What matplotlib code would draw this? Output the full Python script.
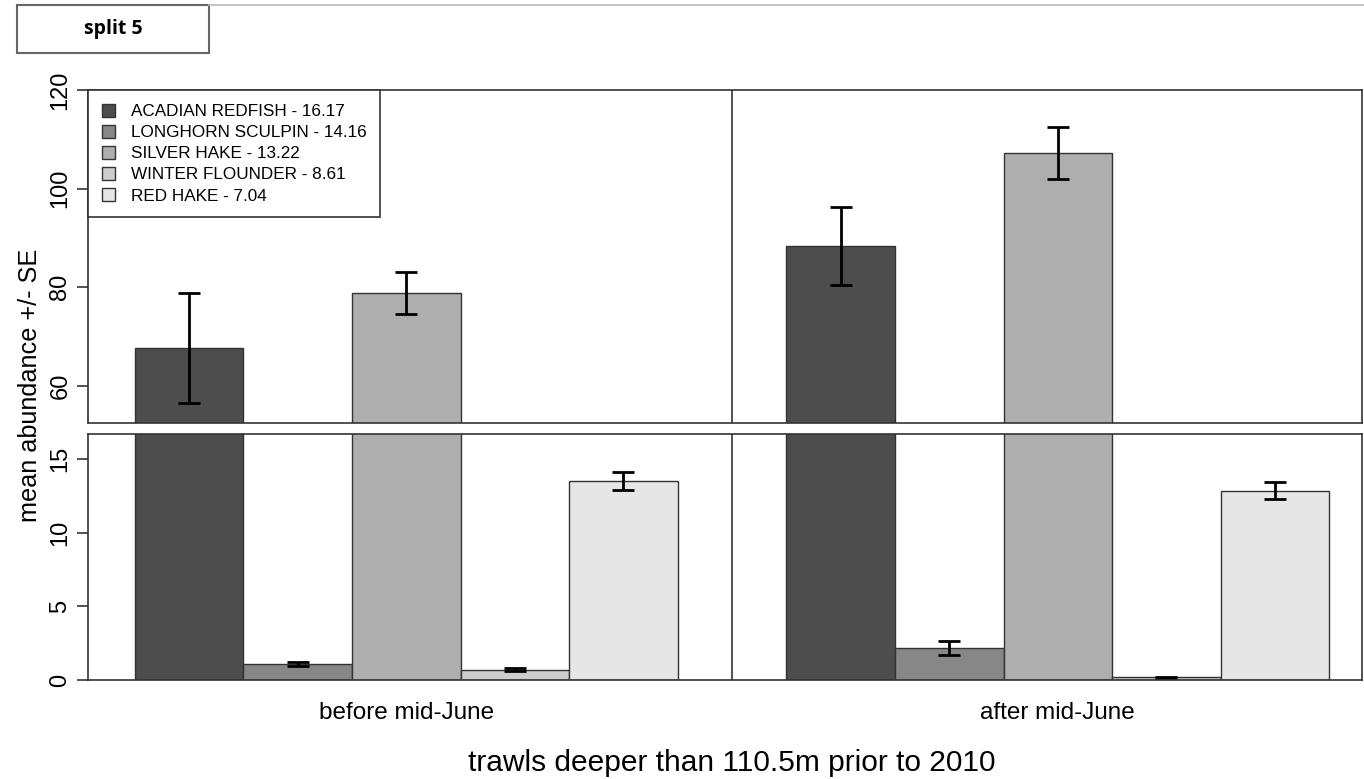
import matplotlib.pyplot as plt
from matplotlib.patches import Rectangle, Patch
from matplotlib.lines import Line2D
import numpy as np

plt.rcParams['font.family'] = ['Liberation Sans', 'DejaVu Sans']

# mean abundance and standard error, per species and period
species = ["ACADIAN REDFISH - 16.17", "LONGHORN SCULPIN - 14.16", "SILVER HAKE - 13.22",
           "WINTER FLOUNDER - 8.61", "RED HAKE - 7.04"]
fills = ["#4D4D4D", "#878787", "#AEAEAE", "#CDCDCD", "#E6E6E6"]
periods = ["before mid-June", "after mid-June"]
mean_before = [67.7, 1.1, 78.9, 0.7, 13.5]
se_before = [11.1, 0.15, 4.3, 0.1, 0.6]
mean_after = [88.4, 2.15, 107.2, 0.17, 12.85]
se_after = [7.9, 0.48, 5.2, 0.05, 0.58]

means = [mean_before, mean_after]
ses = [se_before, se_after]

fig = plt.figure(figsize=(13.64, 7.79), dpi=100)
L, R = 0.0645, 0.9985
ax_top = fig.add_axes([L, 0.457, R - L, 0.8845 - 0.457])
ax_bot = fig.add_axes([L, 0.1271, R - L, 0.4429 - 0.1271])

n = len(species)
for g in range(2):
    xs = np.arange(n) + g * (n + 1)
    for ax in (ax_top, ax_bot):
        ax.bar(xs, means[g], width=1.0, color=fills, edgecolor="#333333", linewidth=1.0)
        ax.errorbar(xs, means[g], yerr=ses[g], fmt="none", ecolor="black",
                    elinewidth=2, capsize=8, capthick=2)

for ax in (ax_top, ax_bot):
    ax.set_xlim(-0.93, 10.8)
    ax.axvline(5.0, color="#333333", linewidth=1.2)
    ax.set_xticks([])
    for s in ax.spines.values():
        s.set_color("#333333")
        s.set_linewidth(1.2)
    ax.tick_params(axis="y", direction="out", length=8, width=1.2, color="#333333",
                   labelsize=17, pad=4)

ax_top.set_ylim(52.5, 120)
ax_top.set_yticks([60, 80, 100, 120])
ax_bot.set_ylim(0, 16.7)
ax_bot.set_yticks([0, 5, 10, 15])
for ax in (ax_top, ax_bot):
    plt.setp(ax.get_yticklabels(), rotation=90, va="center")

# group labels under the bars
for g, name in enumerate(periods):
    ax_bot.text(2 + g * (n + 1), -0.135, name, transform=ax_bot.get_xaxis_transform(),
                ha="center", va="center", fontsize=17.5)

fig.text(0.5363, 0.021, "trawls deeper than 110.5m prior to 2010", ha="center",
         va="center", fontsize=21.5)
fig.text(0.022, 0.505, "mean abundance +/- SE", rotation=90, ha="center",
         va="center", fontsize=18.2)

handles = [Patch(facecolor=c, edgecolor="#333333", linewidth=1.0) for c in fills]
leg = ax_top.legend(handles, species, loc="upper left", bbox_to_anchor=(0, 1),
                    borderaxespad=0, fontsize=12.3, handlelength=0.8, handleheight=0.8,
                    handletextpad=0.9, labelspacing=0.33, borderpad=0.8,
                    fancybox=False, framealpha=1)
leg.get_frame().set_edgecolor("#333333")
leg.get_frame().set_linewidth(1.2)

# caption box and rule at the top
fig.add_artist(Rectangle((17 / 1364, 1 - 53 / 779), 192 / 1364, 48 / 779,
                         transform=fig.transFigure, facecolor="white",
                         edgecolor="#666666", linewidth=1.5))
fig.text(113 / 1364, 1 - 29 / 779, "split 5", ha="center", va="center",
         fontsize=14, fontweight="bold", family=["Open Sans", "DejaVu Sans"])
fig.add_artist(Line2D([209 / 1364, 1.0], [1 - 5 / 779, 1 - 5 / 779],
                      transform=fig.transFigure, color="#bbbbbb", linewidth=1.2))

fig.savefig("out.png", dpi=100)
